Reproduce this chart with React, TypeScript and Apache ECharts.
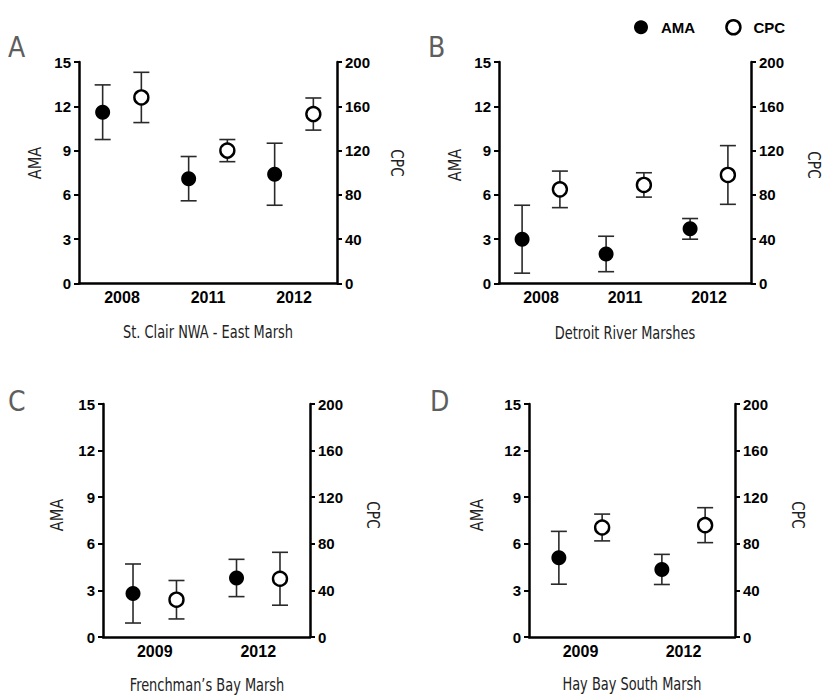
import React, { useEffect, useRef } from "react";
import * as echarts from "echarts";

// ---- data ----
const yearsAB = ["2008", "2011", "2012"];
const yearsCD = ["2009", "2012"];

const amaA = [11.6, 7.1, 7.4];
const amaErrA = [1.85, 1.5, 2.1];
const cpcA = [168, 120, 153];
const cpcErrA = [22.7, 10, 14.5];

const amaB = [3.0, 2.0, 3.7];
const amaErrB = [2.3, 1.2, 0.7];
const cpcB = [85, 89, 98];
const cpcErrB = [16.5, 11, 26.5];

const amaC = [2.8, 3.8];
const amaErrC = [1.9, 1.2];
const cpcC = [32, 50];
const cpcErrC = [16.5, 22.7];

const amaD = [5.1, 4.35];
const amaErrD = [1.7, 0.97];
const cpcD = [94, 96];
const cpcErrD = [11.5, 15];

const amaAxis = { max: 15, interval: 3 };
const cpcAxis = { max: 200, interval: 40 };

const panelLetters = ["A", "B", "C", "D"];
const panelTitles = [
  "St. Clair NWA - East Marsh",
  "Detroit River Marshes",
  "Frenchman\u2019s Bay Marsh",
  "Hay Bay South Marsh",
];

// ---- layout ----
const panels = [
  { years: yearsAB, ama: amaA, amaErr: amaErrA, cpc: cpcA, cpcErr: cpcErrA, off: 0.225,
    grid: { left: 79, top: 62, width: 258, height: 221.5 },
    letter: [8, 33], ama_name: [35, 163], cpc_name: [397, 163], title: [208, 332] },
  { years: yearsAB, ama: amaB, amaErr: amaErrB, cpc: cpcB, cpcErr: cpcErrB, off: 0.225,
    grid: { left: 499, top: 62, width: 252, height: 221.5 },
    letter: [428, 33], ama_name: [455, 165], cpc_name: [814, 165], title: [625, 333] },
  { years: yearsCD, ama: amaC, amaErr: amaErrC, cpc: cpcC, cpcErr: cpcErrC, off: 0.21,
    grid: { left: 103, top: 404, width: 207, height: 233 },
    letter: [8, 387], ama_name: [57, 515], cpc_name: [373, 515], title: [207, 685] },
  { years: yearsCD, ama: amaD, amaErr: amaErrD, cpc: cpcD, cpcErr: cpcErrD, off: 0.21,
    grid: { left: 529, top: 404, width: 206, height: 233 },
    letter: [430, 387], ama_name: [477, 515], cpc_name: [798, 515], title: [632, 684] },
];

const boldFont = "'Liberation Sans', Arial, Helvetica, sans-serif";
const narrowFont = "'Liberation Sans Narrow', 'DejaVu Sans Condensed', 'Liberation Sans', sans-serif";

function errorBarRender(params: any, api: any) {
  const x = api.value(0);
  const lo = api.value(1);
  const hi = api.value(2);
  const pLo = api.coord([x, lo]);
  const pHi = api.coord([x, hi]);
  const hw = 8;
  const style = { stroke: "#2a2a2a", lineWidth: 1.6 };
  return {
    type: "group",
    children: [
      { type: "line", shape: { x1: pLo[0], y1: pLo[1], x2: pHi[0], y2: pHi[1] }, style },
      { type: "line", shape: { x1: pLo[0] - hw, y1: pLo[1], x2: pLo[0] + hw, y2: pLo[1] }, style },
      { type: "line", shape: { x1: pHi[0] - hw, y1: pHi[1], x2: pHi[0] + hw, y2: pHi[1] }, style },
    ],
  };
}

function buildOption() {
  const grid: any[] = [];
  const xAxis: any[] = [];
  const yAxis: any[] = [];
  const series: any[] = [];
  const graphic: any[] = [];

  panels.forEach((p, i) => {
    grid.push({ ...p.grid, containLabel: false });
    const n = p.years.length;
    // visible category axis
    xAxis.push({
      type: "category",
      gridIndex: i,
      data: p.years,
      boundaryGap: true,
      position: "bottom",
      axisLine: { show: true, onZero: false, lineStyle: { color: "#000", width: 2.5 } },
      axisTick: { show: false },
      axisLabel: { color: "#000", fontWeight: "bold", fontSize: 16, fontFamily: boldFont, margin: 6 },
      splitLine: { show: false },
    });
    // hidden value axis for point placement
    xAxis.push({
      type: "value",
      gridIndex: i,
      min: -0.5,
      max: n - 0.5,
      show: false,
      splitLine: { show: false },
    });
    const yCommon = {
      type: "value",
      gridIndex: i,
      min: 0,
      splitLine: { show: false },
      axisLine: { show: true, onZero: false, lineStyle: { color: "#000", width: 2.5 } },
      axisTick: { show: true, length: 5, lineStyle: { color: "#000", width: 2 } },
    };
    yAxis.push({
      ...yCommon,
      position: "left",
      max: amaAxis.max,
      interval: amaAxis.interval,
      axisLabel: { color: "#000", fontWeight: "bold", fontSize: 15, fontFamily: boldFont, margin: 8 },
    });
    yAxis.push({
      ...yCommon,
      position: "right",
      max: cpcAxis.max,
      interval: cpcAxis.interval,
      axisLabel: { color: "#000", fontWeight: "bold", fontSize: 15, fontFamily: boldFont, margin: 8 },
    });
    const xIdx = i * 2 + 1;
    const yL = i * 2;
    const yR = i * 2 + 1;

    series.push({
      type: "custom",
      name: "AMA error",
      xAxisIndex: xIdx,
      yAxisIndex: yL,
      renderItem: errorBarRender,
      encode: { x: 0, y: [1, 2] },
      data: p.ama.map((v, k) => [k - p.off, v - p.amaErr[k], v + p.amaErr[k]]),
      z: 2,
      silent: true,
    });
    series.push({
      type: "custom",
      name: "CPC error",
      xAxisIndex: xIdx,
      yAxisIndex: yR,
      renderItem: errorBarRender,
      encode: { x: 0, y: [1, 2] },
      data: p.cpc.map((v, k) => [k + p.off, v - p.cpcErr[k], v + p.cpcErr[k]]),
      z: 2,
      silent: true,
    });
    series.push({
      type: "scatter",
      name: "AMA",
      xAxisIndex: xIdx,
      yAxisIndex: yL,
      symbol: "circle",
      symbolSize: 15,
      itemStyle: { color: "#000", opacity: 1 },
      data: p.ama.map((v, k) => [k - p.off, v]),
      z: 3,
    });
    series.push({
      type: "scatter",
      name: "CPC",
      xAxisIndex: xIdx,
      yAxisIndex: yR,
      symbol: "circle",
      symbolSize: 14,
      itemStyle: { color: "#fff", borderColor: "#000", borderWidth: 2.4, opacity: 1 },
      data: p.cpc.map((v, k) => [k + p.off, v]),
      z: 3,
    });

    graphic.push({
      type: "text",
      left: p.letter[0],
      top: p.letter[1],
      style: { text: panelLetters[i], fontSize: 28, fontFamily: narrowFont, fill: "#5e5e5e" },
    });
    graphic.push({
      type: "text",
      x: p.ama_name[0],
      y: p.ama_name[1],
      rotation: Math.PI / 2,
      scaleX: 0.9,
      style: { text: "AMA", fontSize: 18, fontFamily: narrowFont, fill: "#222", align: "center", verticalAlign: "middle" },
    });
    graphic.push({
      type: "text",
      x: p.cpc_name[0],
      y: p.cpc_name[1],
      rotation: -Math.PI / 2,
      scaleX: 0.9,
      style: { text: "CPC", fontSize: 17, fontFamily: narrowFont, fill: "#222", align: "center", verticalAlign: "middle" },
    });
    graphic.push({
      type: "text",
      x: p.title[0],
      y: p.title[1],
      scaleX: 0.8,
      style: { text: panelTitles[i], fontSize: 18, fontFamily: narrowFont, fill: "#222", align: "center", verticalAlign: "middle" },
    });
  });

  return {
    animation: false,
    backgroundColor: "#fff",
    legend: {
      left: 629,
      top: 14,
      itemWidth: 14,
      itemHeight: 14,
      itemGap: 30,
      textStyle: { color: "#000", fontWeight: "bold", fontSize: 15, fontFamily: boldFont, padding: [0, 0, 0, 8] },
      data: [
        { name: "AMA", icon: "circle", itemStyle: { color: "#000", borderWidth: 0, opacity: 1 } },
        { name: "CPC", icon: "circle", itemStyle: { color: "#fff", borderColor: "#000", borderWidth: 2.5, opacity: 1 } },
      ],
      selectedMode: false,
    },
    grid,
    xAxis,
    yAxis,
    series,
    graphic,
  };
}

export default function App() {
  const ref = useRef<HTMLDivElement>(null);
  useEffect(() => {
    if (!ref.current) return;
    const chart = echarts.init(ref.current, null, { renderer: "svg" });
    chart.setOption(buildOption() as any);
    return () => chart.dispose();
  }, []);
  return (
    <div
      ref={ref}
      style={{ position: "fixed", left: 0, top: 0, width: 826, height: 695, background: "#fff" }}
    />
  );
}
